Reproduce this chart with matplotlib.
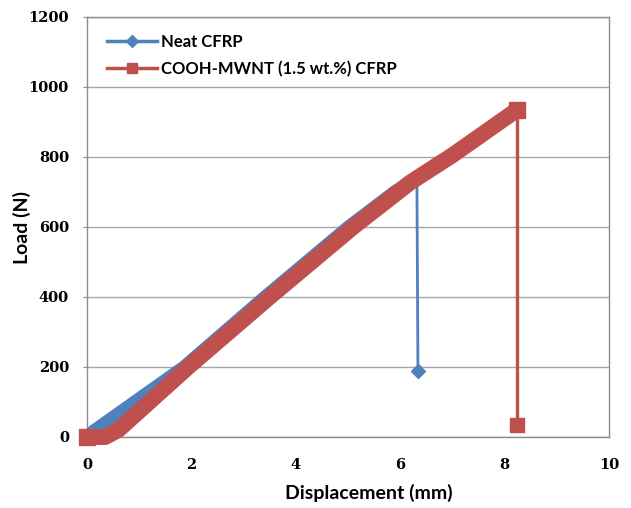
import numpy as np
import matplotlib
matplotlib.use("Agg")
import matplotlib.pyplot as plt
from matplotlib.lines import Line2D

# values (displacement in mm, load in N)
neat_x = [0.0, 0.1, 1.85, 3.4, 5.0, 5.9, 6.32]
neat_y = [0, 15, 200, 400, 600, 702, 740]
neat_fail_x = [6.32, 6.34]
neat_fail_y = [740, 189]

mwnt_x = [0.0, 0.35, 0.6, 1.94, 3.5, 5.1, 6.2, 7.0, 8.24]
mwnt_y = [0, 0, 20, 200, 400, 600, 728, 805, 935]
mwnt_fail_x = [8.24, 8.24]
mwnt_fail_y = [935, 34]

labels = ["Neat CFRP", "COOH-MWNT (1.5 wt.%) CFRP"]
x_ticks = [0, 2, 4, 6, 8, 10]
y_ticks = [0, 200, 400, 600, 800, 1000, 1200]

blue = "#4F81BD"
red = "#C0504D"
grey = "#8C8C8C"

fig = plt.figure(figsize=(6.31, 5.08), dpi=100)
ax = fig.add_axes([87/631, 71/508, 522/631, 420/508])

# thick bands stand in for the dense markers of the loading part
ax.plot(neat_x, neat_y, color=blue, lw=9, solid_capstyle="round",
        solid_joinstyle="round", clip_on=False, zorder=3)
ax.plot(neat_fail_x, neat_fail_y, color=blue, lw=2, zorder=3)
ax.plot(neat_fail_x[-1:], neat_fail_y[-1:], color=blue, marker="D", ms=7,
        ls="none", zorder=3)

ax.plot(mwnt_x, mwnt_y, color=red, lw=11.5, solid_capstyle="butt",
        solid_joinstyle="round", clip_on=False, zorder=4)
ax.plot([mwnt_x[0], mwnt_x[-1]], [mwnt_y[0], mwnt_y[-1]], color=red,
        marker="s", ms=11, ls="none", clip_on=False, zorder=4)
ax.plot(mwnt_fail_x, mwnt_fail_y, color=red, lw=2.4, zorder=4)
ax.plot(mwnt_fail_x[-1:], mwnt_fail_y[-1:], color=red, marker="s", ms=9.5,
        ls="none", zorder=4)

ax.set_xlim(0, 10)
ax.set_ylim(0, 1200)
ax.set_xticks(x_ticks)
ax.set_yticks(y_ticks)
ax.grid(axis="y", color="#A6A6A6", lw=1)
ax.set_axisbelow(True)
for s in ax.spines.values():
    s.set_color(grey)
    s.set_linewidth(1)

tick_font = dict(family="DejaVu Serif", weight="bold", size=10.5)
ax.set_xticklabels([str(v) for v in x_ticks], **tick_font)
ax.set_yticklabels([str(v) for v in y_ticks], **tick_font)
ax.tick_params(axis="x", length=0, pad=15)
ax.tick_params(axis="y", length=3, color=grey, pad=10)

label_font = dict(family="Lato", weight="bold", size=14)
ax.set_xlabel("Displacement (mm)", **label_font)
ax.set_ylabel("Load (N)", **label_font)
ax.xaxis.set_label_coords(0.54, -0.112)
ax.yaxis.set_label_coords(-0.108, 0.5)

handles = [
    Line2D([], [], color=blue, lw=2.5, marker="D", ms=6),
    Line2D([], [], color=red, lw=2.5, marker="s", ms=7),
]
ax.legend(handles, labels, loc="upper left", bbox_to_anchor=(0.01, 0.995),
          frameon=False, handlelength=3.0, handletextpad=0.25, labelspacing=0.65,
          prop=dict(family="Lato", weight="bold", size=12))

fig.savefig("out.png", dpi=100)
